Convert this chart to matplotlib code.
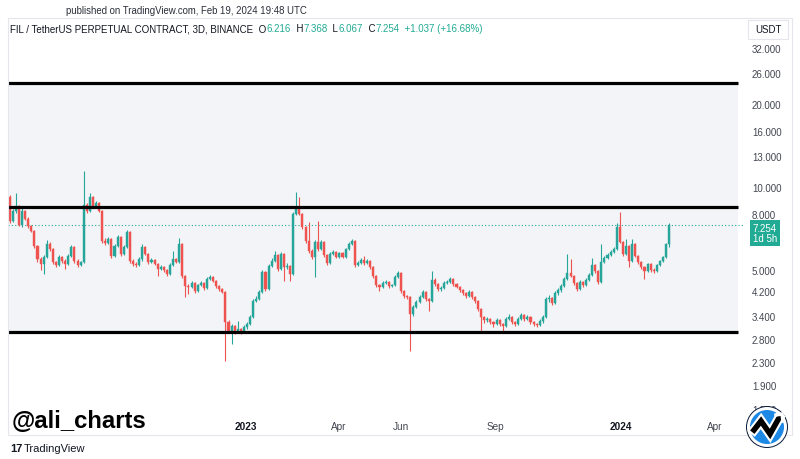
import numpy as np
import pandas as pd
import matplotlib
matplotlib.use("Agg")
import matplotlib.pyplot as plt
import matplotlib.dates as mdates
from matplotlib.patches import Ellipse, Rectangle
from matplotlib.lines import Line2D
from matplotlib.offsetbox import TextArea, HPacker, AnnotationBbox
from matplotlib.ticker import NullLocator

plt.rcParams["font.family"] = ["Liberation Sans", "DejaVu Sans"]

# FIL/USDT perpetual, 3D candles. open = previous close.
FIRST_BAR = "2022-05-16"
OPEN_0 = 9.20
CLOSE = [
    7.52, 8.18, 8.53, 7.28, 8.18, 7.65, 7.22, 6.92, 6.10, 5.47,
    5.25, 5.57, 6.20, 5.95, 5.34, 5.21, 5.57, 5.38, 5.25, 5.61,
    6.05, 5.38, 5.21, 5.34, 8.60, 8.18, 9.20, 8.46, 8.74, 8.18,
    6.36, 6.25, 6.47, 5.61, 6.10, 6.58, 5.71, 6.05, 6.86, 5.38,
    5.25, 5.21, 5.47, 6.05, 5.71, 5.34, 5.43, 5.25, 5.03, 5.12,
    4.99, 4.83, 5.21, 5.47, 5.34, 6.20, 4.75, 4.37, 4.33, 4.48,
    4.19, 4.40, 4.48, 4.30, 4.63, 4.71, 4.55, 4.37, 4.26, 4.15,
    3.23, 3.00, 3.13, 2.98, 3.05, 2.98, 3.10, 3.18, 3.37, 3.85,
    3.91, 4.15, 4.91, 4.26, 5.16, 5.38, 5.66, 5.03, 5.71, 5.12,
    5.16, 4.83, 7.98, 8.46, 7.98, 7.16, 6.36, 5.85, 5.57, 6.31,
    5.95, 6.31, 5.66, 5.29, 5.71, 5.80, 5.57, 5.75, 5.57, 5.95,
    6.20, 6.36, 5.21, 5.29, 5.43, 5.29, 5.38, 5.12, 4.75, 4.40,
    4.33, 4.48, 4.52, 4.37, 4.40, 4.71, 4.87, 4.19, 4.02, 3.98,
    3.45, 3.66, 3.82, 3.98, 4.15, 3.91, 3.85, 4.59, 4.44, 4.26,
    4.30, 4.48, 4.52, 4.63, 4.44, 4.33, 4.22, 4.12, 4.02, 4.15,
    3.98, 3.85, 3.60, 3.37, 3.29, 3.31, 3.23, 3.18, 3.29, 3.18,
    3.13, 3.31, 3.37, 3.23, 3.18, 3.31, 3.42, 3.31, 3.37, 3.23,
    3.18, 3.15, 3.26, 3.37, 3.91, 3.95, 3.78, 4.12, 4.22, 4.37,
    4.63, 4.87, 4.75, 4.48, 4.26, 4.52, 4.40, 4.59, 4.79, 5.21,
    4.95, 4.52, 5.34, 5.52, 5.66, 5.80, 5.95, 7.16, 6.31, 5.71,
    6.10, 5.38, 6.20, 5.61, 5.34, 5.12, 4.95, 5.25, 4.99, 4.95,
    5.21, 5.38, 5.57, 6.216, 7.254,
]
HIGH = [
    9.35, 8.30, 9.51, 8.60, 8.35, 8.25, 7.75, 7.30, 6.98, 6.15,
    5.55, 5.65, 6.41, 6.30, 6.00, 5.40, 5.65, 5.62, 5.45, 5.70,
    6.15, 6.10, 5.45, 5.40, 11.43, 8.74, 9.51, 9.30, 8.90, 8.80,
    8.25, 6.50, 6.60, 6.52, 6.20, 6.70, 6.65, 6.15, 6.98, 6.90,
    5.45, 5.35, 5.55, 6.20, 6.10, 5.75, 5.50, 5.45, 5.30, 5.20,
    5.15, 5.02, 5.28, 5.85, 5.52, 6.52, 6.25, 4.80, 4.45, 4.55,
    4.52, 4.45, 4.55, 4.52, 4.70, 4.78, 4.75, 4.58, 4.40, 4.30,
    4.18, 3.28, 3.18, 3.15, 3.26, 3.08, 3.15, 3.22, 3.42, 3.90,
    4.00, 4.22, 5.00, 4.95, 5.25, 5.50, 5.85, 5.70, 5.80, 5.75,
    5.30, 5.20, 8.10, 9.59, 9.20, 8.05, 7.22, 7.46, 5.95, 6.40,
    7.52, 6.40, 6.35, 5.70, 5.80, 5.88, 5.85, 5.82, 5.80, 6.02,
    6.28, 6.47, 6.40, 5.38, 5.50, 5.61, 5.45, 5.42, 5.15, 4.80,
    4.45, 4.55, 4.58, 4.55, 4.45, 4.78, 4.95, 4.91, 4.22, 4.05,
    4.00, 3.72, 3.88, 4.05, 4.22, 4.18, 3.95, 4.95, 4.65, 4.48,
    4.35, 4.55, 4.60, 4.70, 4.66, 4.48, 4.36, 4.25, 4.15, 4.22,
    4.18, 4.00, 3.88, 3.62, 3.40, 3.36, 3.34, 3.26, 3.33, 3.31,
    3.21, 3.36, 3.45, 3.40, 3.26, 3.36, 3.48, 3.45, 3.42, 3.40,
    3.26, 3.21, 3.30, 3.42, 3.98, 4.05, 3.98, 4.18, 4.30, 4.44,
    4.71, 5.71, 5.47, 4.80, 4.52, 4.58, 4.56, 4.66, 4.87, 5.52,
    5.25, 5.00, 6.20, 5.61, 5.75, 5.88, 6.05, 7.40, 8.11, 6.36,
    6.47, 6.15, 6.47, 6.25, 5.66, 5.40, 5.16, 5.30, 5.29, 5.08,
    5.25, 5.43, 5.61, 6.25, 7.368,
]
LOW = [
    7.40, 7.45, 8.05, 7.20, 7.15, 7.55, 7.10, 6.85, 6.00, 5.35,
    4.99, 4.83, 5.50, 5.85, 5.25, 5.10, 5.15, 5.30, 5.03, 5.20,
    5.55, 5.30, 5.12, 5.15, 5.30, 8.05, 8.10, 8.35, 8.40, 8.10,
    6.25, 6.15, 6.20, 5.50, 5.55, 6.05, 5.60, 5.65, 6.00, 5.30,
    5.15, 5.10, 5.15, 5.40, 5.65, 5.25, 5.30, 5.18, 4.75, 4.98,
    4.92, 4.75, 4.80, 5.15, 5.28, 5.30, 4.65, 3.98, 4.08, 4.28,
    4.12, 4.15, 4.35, 4.22, 4.26, 4.58, 4.50, 4.30, 4.20, 4.10,
    2.33, 2.95, 2.69, 2.92, 2.95, 2.93, 2.95, 3.05, 3.15, 3.33,
    3.80, 3.88, 4.10, 4.20, 4.22, 5.10, 5.32, 4.95, 4.98, 4.55,
    5.05, 4.55, 4.78, 7.90, 7.90, 7.05, 6.25, 5.75, 5.45, 4.71,
    5.85, 5.90, 5.58, 5.20, 5.25, 5.65, 5.50, 5.52, 5.50, 5.52,
    5.90, 6.15, 5.12, 5.15, 5.25, 5.22, 5.25, 5.05, 4.68, 4.33,
    4.19, 4.28, 4.42, 4.30, 4.33, 4.36, 4.65, 4.12, 3.95, 3.91,
    2.54, 3.40, 3.62, 3.78, 3.95, 3.85, 3.54, 3.80, 4.38, 4.20,
    4.20, 4.26, 4.44, 4.48, 4.38, 4.28, 4.15, 4.05, 3.95, 3.98,
    3.92, 3.78, 3.54, 3.00, 3.20, 3.22, 3.18, 3.10, 3.15, 3.12,
    2.98, 3.10, 3.28, 3.18, 3.12, 3.15, 3.28, 3.26, 3.28, 3.18,
    3.12, 3.10, 3.12, 3.20, 3.33, 3.80, 3.72, 3.75, 4.05, 4.15,
    4.33, 4.60, 4.70, 4.40, 4.19, 4.22, 4.33, 4.36, 4.55, 4.75,
    4.87, 4.44, 4.48, 5.29, 5.47, 5.61, 5.75, 5.90, 6.25, 5.61,
    5.66, 5.12, 5.34, 5.55, 5.25, 5.03, 4.63, 4.91, 4.91, 4.87,
    4.91, 5.16, 5.34, 5.52, 6.067,
]

# drawn range box (top / middle / bottom lines)
BOX_TOP = 23.9
BOX_MID = 8.46
BOX_BOTTOM = 2.97
BOX_END = "2024-04-24"
LAST_PRICE = 7.254

PRICE_TICKS = [1.56, 1.9, 2.3, 2.8, 3.4, 4.2, 5.0, 8.0, 10, 13, 16, 20, 26, 32]
TIME_TICKS = ["2023-01-01", "2023-04-01", "2023-06-01", "2023-09-01", "2024-01-01", "2024-04-01"]
TIME_LABELS = ["2023", "Apr", "Jun", "Sep", "2024", "Apr"]

UP = "#26a69a"
DOWN = "#ef5350"
W, H = 800, 460


def fx(px):
    return px / W


def fy(py):
    return 1 - py / H


close = np.array(CLOSE)
opn = np.r_[OPEN_0, close[:-1]]
high = np.array(HIGH)
low = np.array(LOW)
dates = mdates.date2num(pd.date_range(FIRST_BAR, periods=len(close), freq="3D"))
colors = np.where(close >= opn, UP, DOWN)

fig = plt.figure(figsize=(8, 4.6), dpi=100)
ax = fig.add_axes([fx(8), fy(418), fx(745 - 8), (418 - 40) / H])
ax.set_yscale("log")
x0 = mdates.date2num(pd.Timestamp("2022-05-14 07:00"))
x1 = mdates.date2num(pd.Timestamp("2024-04-30 21:00"))
ax.set_xlim(x0, x1)
ax.set_ylim(1.457, 34.5)

# range box
xe = mdates.date2num(pd.Timestamp(BOX_END))
ax.fill_between([x0, xe], BOX_BOTTOM, BOX_TOP, color="#f3f4f7", lw=0, zorder=0)
for lvl in (BOX_TOP, BOX_MID, BOX_BOTTOM):
    ax.plot([x0, xe], [lvl, lvl], color="black", lw=2.3, solid_capstyle="butt", zorder=4)

ax.axhline(LAST_PRICE, color="#26a69a", lw=0.8, ls=(0, (1, 2)), zorder=1)

# candles
ax.vlines(dates, low, high, colors=colors, lw=0.8, zorder=2)
ax.bar(dates, np.maximum(np.abs(close - opn), 0.01), bottom=np.minimum(opn, close),
       width=2.0, color=colors, edgecolor=colors, lw=0.3, zorder=3)

for s in ax.spines.values():
    s.set_visible(False)
ax.yaxis.tick_right()
ax.yaxis.set_minor_locator(NullLocator())
ax.set_yticks(PRICE_TICKS)
ax.set_yticklabels([f"{v:.3f}" for v in PRICE_TICKS])
ax.tick_params(axis="y", length=0, pad=5, labelsize=7, labelcolor="#434651")
ax.set_xticks(mdates.date2num(pd.to_datetime(TIME_TICKS)))
ax.set_xticklabels(TIME_LABELS)
ax.tick_params(axis="x", length=0, pad=3, labelsize=7.2, labelcolor="#434651")
for lab in ax.get_xticklabels():
    if lab.get_text().isdigit():
        lab.set_fontweight("bold")
        lab.set_color("#131722")

# frame of the chart widget
fig.add_artist(Rectangle((fx(8), fy(436)), fx(784), (436 - 19) / H, fill=False,
                         ec="#e4e6ec", lw=0.8, transform=fig.transFigure))
fig.add_artist(Rectangle((fx(748), fy(40)), fx(40), 19 / H, fill=False,
                         ec="#e4e6ec", lw=0.8, transform=fig.transFigure))

fig.text(fx(186), fy(11), "published on TradingView.com, Feb 19, 2024 19:48 UTC",
         ha="center", va="center", fontsize=6.9, color="#2a2e39")
fig.text(fx(768), fy(30), "USDT", ha="center", va="center", fontsize=7,
         color="#131722")

# legend line
dark = dict(color="#131722", fontsize=7.0)
teal = dict(color="#22ab94", fontsize=7.0)
parts = [
    ("FIL / TetherUS PERPETUAL CONTRACT, 3D, BINANCE  O", dark), ("6.216", teal),
    ("  H", dark), ("7.368", teal), ("  L", dark), ("6.067", teal),
    ("  C", dark), ("7.254", teal), ("  +1.037 (+16.68%)", teal),
]
pack = HPacker(children=[TextArea(t, textprops=p) for t, p in parts],
               align="baseline", pad=0, sep=0)
fig.add_artist(AnnotationBbox(pack, (fx(10), fy(29)), xycoords="figure fraction",
                              box_alignment=(0, 0.5), frameon=False, pad=0))

# last price tag
fig.text(fx(765), fy(234), "7.254\n1d 5h", ha="center", va="center", fontsize=7,
         color="white", linespacing=1.05,
         bbox=dict(boxstyle="square,pad=0.25", fc="#22ab94", ec="none"))

# watermark and footer
fig.text(fx(12), fy(421), "@ali_charts", ha="left", va="center", fontsize=17.2,
         fontweight="bold", color="black")
fig.text(fx(10), fy(449), "17", ha="left", va="center", fontsize=8,
         fontweight="bold", color="#131722")
fig.text(fx(24), fy(449), "TradingView", ha="left", va="center", fontsize=8,
         color="#131722")

# round logo bottom right
cx, cy, r = 767, 428, 20
fig.add_artist(Ellipse((fx(cx), fy(cy)), 2 * (r + 1) / W, 2 * (r + 1) / H,
                       fc="#0b1d3a", ec="none", transform=fig.transFigure, zorder=5))
fig.add_artist(Ellipse((fx(cx), fy(cy)), 2 * r / W, 2 * r / H,
                       fc="white", ec="none", transform=fig.transFigure, zorder=5))
fig.add_artist(Ellipse((fx(cx), fy(cy)), 2 * (r - 3) / W, 2 * (r - 3) / H,
                       fc="#1e88e5", ec="none", transform=fig.transFigure, zorder=5))
zz_x = [cx - 13, cx - 6, cx + 3, cx + 12]
zz_y = [cy + 3, cy - 6, cy + 7, cy - 9]
for lw, c in ((7, "white"), (4, "black")):
    fig.add_artist(Line2D([fx(v) for v in zz_x], [fy(v) for v in zz_y], lw=lw, color=c,
                          solid_joinstyle="miter", transform=fig.transFigure, zorder=6))
fig.add_artist(Line2D([fx(cx + 9), fx(cx + 15), fx(cx + 16)],
                      [fy(cy - 12), fy(cy - 13), fy(cy - 6)], lw=2.5, color="white",
                      transform=fig.transFigure, zorder=6))

fig.savefig("out.png", dpi=100)
